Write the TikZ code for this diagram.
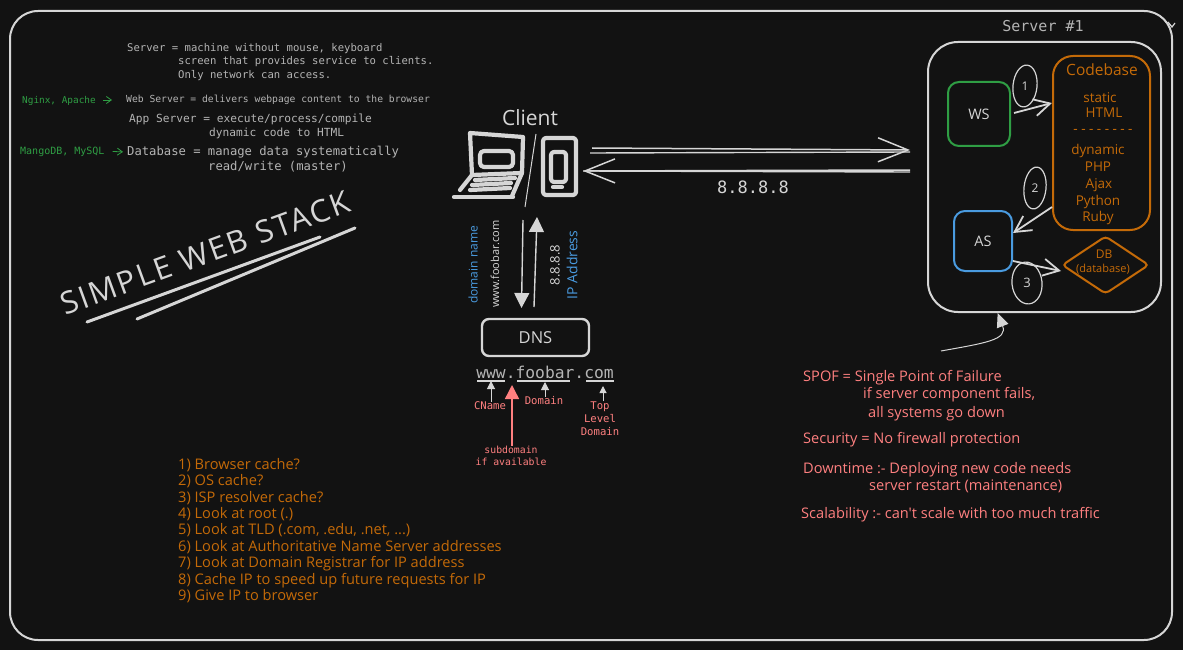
\documentclass[tikz,border=0pt]{standalone}
\usepackage{fontspec}
\setmonofont{DejaVu Sans Mono}
\newfontfamily\handfont{Open Sans}
\newfontfamily\titlefont[LetterSpace=7]{Open Sans}
\usetikzlibrary{arrows.meta}
\usetikzlibrary{shapes.geometric}
\definecolor{canvas}{HTML}{121212}
\definecolor{chalk}{HTML}{D6D6D6}
\definecolor{note}{HTML}{B4B4B4}
\definecolor{leaf}{HTML}{2F9E44}
\definecolor{sky}{HTML}{4A9BE0}
\definecolor{rust}{HTML}{C46A08}
\definecolor{coral}{HTML}{FF8080}
\newcommand{\monosize}[1]{\fontsize{#1}{#1}\selectfont\ttfamily}
\newcommand{\handsize}[1]{\fontsize{#1}{#1}\selectfont\handfont}

\begin{document}
\begin{tikzpicture}[>=stealth,x=1pt,y=-1pt,
		mono/.style={inner sep=0pt,anchor=west,text=note,font=\monosize{#1}},
		greenmono/.style={inner sep=0pt,anchor=west,text=leaf,font=\monosize{#1}},
		coralmono/.style={inner sep=0pt,text=coral,font=\monosize{#1}},
		rustmono/.style={inner sep=0pt,text=rust,font=\monosize{#1}},
		hand/.style={inner sep=0pt,text=chalk,font=\handsize{#1}},
		rusthand/.style={inner sep=0pt,yshift=-1pt,text=rust,font=\handsize{#1}},
		rustline/.style={inner sep=0pt,anchor=west,yshift=-1.5pt,text=rust,font=\handsize{14.6}},
		coralline/.style={inner sep=0pt,anchor=west,yshift=-1.5pt,text=coral,font=\handsize{14.6}},
		bluehand/.style={inner sep=0pt,text=sky,rotate=90,font=\handsize{#1}},
		longhead/.style={-{Straight Barb[length=30pt,width=24pt]},chalk,line width=1.5pt},
		openhead/.style={-{Straight Barb[length=16pt,width=17pt]},chalk,line width=1.8pt},
		greenhead/.style={-{Straight Barb[length=5pt,width=7pt]},leaf,line width=.8pt},
		solidhead/.style={-{Stealth[length=#1,width=#1,inset=0pt]},chalk,line width=1.4pt},
		roundbox/.style={draw=#1,line width=2pt,rounded corners=11pt,inner sep=0pt},
		badge/.style={draw=chalk,ellipse,line width=1.2pt,inner sep=0pt},
		icon/.style={draw=chalk,line width=4.2pt,line join=round,line cap=round}
		]
		\fill[canvas] (0,0) rectangle (1183,650);
		\useasboundingbox (0,0) rectangle (1183,650);

		\draw[chalk,line width=2pt,rounded corners=28pt] (10,11) rectangle (1172,640);
		\draw[chalk,line width=1.2pt] (1168,22) -- (1172,27) -- (1175,23);

		% definitions on the left
		\node[mono=10.6] (srvdef) at (127,49) {Server = machine without mouse, keyboard};
		\node[mono=10.6] (srvdefb) at (178,62) {screen that provides service to clients.};
		\node[mono=10.6] (srvdefc) at (178,76) {Only network can access.};
		\node[greenmono=9.4] (nginx) at (22,100.5) {Nginx, Apache};
		\node[mono=9.7] (wsdef) at (126,99.5) {Web Server = delivers webpage content to the browser};
		\node[mono=11.2] (asdef) at (129,119) {App Server = execute/process/compile};
		\node[mono=11.2] (asdefb) at (209,133) {dynamic code to HTML};
		\node[greenmono=10] (mango) at (20,151.5) {MangoDB, MySQL};
		\node[mono=12.2] (dbdef) at (127,152) {Database = manage data systematically};
		\node[mono=12.2] (dbdefb) at (208,167) {read/write (master)};
		\coordinate (nginxout) at (103,100);
		\coordinate (nginxin) at (112,100);
		\draw[greenhead] (nginxout) -- (nginxin);
		\draw[greenhead,shorten >=4pt] (mango.east) ++(8,0) coordinate (mangoout) -- (dbdef.west);

		% title
		\node[inner sep=0pt,text=chalk,rotate=20,font=\fontsize{31}{31}\selectfont\titlefont] (title) at (205,253) {SIMPLE WEB STACK};
		\coordinate (ruleaa) at (87,322);
		\coordinate (ruleab) at (320,237);
		\coordinate (ruleba) at (137,319);
		\coordinate (rulebb) at (355,228);
		\draw[chalk,line width=3pt,line cap=round] (ruleaa) -- (ruleab);
		\draw[chalk,line width=3pt,line cap=round] (ruleba) -- (rulebb);

		% client
		\node[hand=21] (client) at (530,118) {Client};
		\draw[icon] (470,133) -- (523,137) -- (522,173) -- (472,175) -- cycle;
		\draw[icon,rounded corners=4pt] (480,151) rectangle (513,167);
		\draw[icon] (472,175) -- (460,190);
		\draw[icon] (522,173) -- (512,196);
		\draw[icon] (454,197) -- (513,197);
		\draw[icon] (475,180) -- (515,178);
		\draw[icon] (472,185) -- (511,183);
		\draw[icon] (470,190) -- (510,188);
		\draw[chalk,line width=1pt] (536,134) -- (525,207);
		\draw[icon,rounded corners=3pt] (543,138) rectangle (576,195);
		\draw[icon,rounded corners=3pt] (551,152) rectangle (566,182);
		\draw[icon] (553,187) -- (562,187);

		\coordinate (clientin) at (583,171);
		\coordinate (clientout) at (592,148);
		\coordinate (clientoutb) at (590,153);
		\coordinate (serverin) at (910,150);
		\coordinate (serverinb) at (910,152);
		\coordinate (serverout) at (910,170);
		\coordinate (serveroutb) at (910,172);
		\draw[longhead] (clientout) -- (serverin);
		\draw[chalk,line width=1.4pt] (clientoutb) -- (serverinb);
		\draw[longhead] (serverout) -- (clientin);
		\draw[chalk,line width=1.4pt] (serveroutb) -- (clientin);
		\node[mono=17,anchor=center,text=chalk] (addr) at (753,187) {8.8.8.8};

		% dns lookup
		\node[draw=chalk,line width=2.4pt,rounded corners=7pt,minimum width=107pt,minimum height=37pt,inner sep=0pt] (dns) at (535.5,337.5) {};
		\node[hand=16.5] (dnstext) at (dns) {DNS};
		\coordinate (clientdown) at (523,220);
		\coordinate (dnshit) at (521.5,308);
		\coordinate (dnsup) at (534,307);
		\coordinate (clientup) at (537,217);
		\draw[solidhead=15pt] (clientdown) -- (dnshit);
		\draw[solidhead=15pt] (dnsup) -- (clientup);
		\node[bluehand=12] (domainname) at (473,265) {domain name};
		\node[hand=11,rotate=90] (wwwname) at (495,264) {www.foobar.com};
		\node[hand=13,rotate=90] (ipnum) at (555,265) {8.8.8.8};
		\node[bluehand=14] (ipname) at (572,265) {IP Address};

		\node[mono=16.3,anchor=center,text=note] (fqdn) at (545,372) {www.foobar.com};
		\coordinate (wwwleft) at (477,381);
		\coordinate (wwwright) at (505,381);
		\coordinate (fooleft) at (517,381);
		\coordinate (fooright) at (570,381);
		\coordinate (comleft) at (586,381);
		\coordinate (comright) at (614,381);
		\draw[chalk,line width=1.2pt] (wwwleft) -- (wwwright);
		\draw[chalk,line width=1.2pt] (fooleft) -- (fooright);
		\draw[chalk,line width=1.2pt] (comleft) -- (comright);
		\node[coralmono=10.6] (cname) at (490,406) {CName};
		\node[coralmono=10.6] (domain) at (544,401) {Domain};
		\node[coralmono=10.6,align=center] (tld) at (600,418.5) {Top\\[3pt]Level\\[2pt]Domain};
		\node[coralmono=9.8,align=center] (subdomain) at (511,456) {subdomain\\[2pt]if available};
		\draw[solidhead=8pt,line width=1pt] (cname.north -| 491,398) coordinate (cnamefoot) -- (491,381);
		\draw[solidhead=8pt,line width=1pt] (domain.north -| 545,396) coordinate (domainfoot) -- (545,382);
		\draw[solidhead=7pt,line width=1pt] (tld.north -| 603,400) coordinate (tldfoot) -- (603,386);
		\draw[solidhead=14pt,coral] (subdomain.north -| 512,438) coordinate (subfoot) -- (512,385);

		% server
		\node[mono=15,anchor=center] (srvtitle) at (1043,26) {Server \#1};
		\node[roundbox=chalk,rounded corners=30pt,minimum width=233pt,minimum height=270pt] (srv) at (1044.5,177) {};
		\node[roundbox=leaf,minimum width=62pt,minimum height=64pt] (ws) at (979,114) {};
		\node[hand=14.5] (wstext) at (ws) {WS};
		\node[roundbox=sky,minimum width=58pt,minimum height=60pt] (as) at (983,241) {};
		\node[hand=14.5] (astext) at (as) {AS};
		\node[roundbox=rust,rounded corners=20pt,minimum width=97pt,minimum height=174pt] (code) at (1101.5,143) {};
		\node[rusthand=15.5] (codetitle) at (1102,69) {Codebase};
		\node[rusthand=13.5] (static) at (1100,97) {static};
		\node[rusthand=13.5] (html) at (1104,112) {HTML};
		\node[rustmono=13] (dashes) at (1103,131) {--------};
		\node[rusthand=13.5] (dynamic) at (1098,150) {dynamic};
		\node[rusthand=13.5] (php) at (1098,166) {PHP};
		\node[rusthand=13.5] (ajax) at (1099,184) {Ajax};
		\node[rusthand=13.5] (python) at (1098,201) {Python};
		\node[rusthand=13.5] (ruby) at (1098,217) {Ruby};
		\node[draw=rust,line width=2pt,diamond,aspect=1.5,rounded corners=4pt,minimum width=87pt,minimum height=58pt,inner sep=0pt] (db) at (1105.5,265) {};
		\node[rusthand=12] (dbtop) at (1104,253) {DB};
		\node[rusthand=11] (dbname) at (1103,268) {(database)};

		\node[badge,minimum width=24pt,minimum height=42pt,rotate=-6] (stepa) at (1025,86) {};
		\node[hand=12] (stepatext) at (stepa) {1};
		\node[badge,minimum width=22pt,minimum height=42pt,rotate=-6] (stepb) at (1035,188) {};
		\node[hand=12] (stepbtext) at (stepb) {2};
		\node[badge,minimum width=30pt,minimum height=42pt,rotate=6] (stepc) at (1027,283) {};
		\node[hand=13] (stepctext) at (stepc) {3};
		\draw[openhead] (1014,113) -- (code.west |- 0,103);
		\draw[openhead] (code.west |- 0,207) -- (as.east |- 0,233);
		\draw[openhead] (as.east |- 0,261) -- (db.west |- 0,271);

		% spof note
		\coordinate (noteend) at (941,351);
		\draw[-{Stealth[length=14pt,width=12pt,inset=0pt]},chalk,line width=1pt] (noteend) .. controls (985,343) and (1008,340) .. (srv.251);
		\node[coralline] (spof) at (803,376) {SPOF = Single Point of Failure};
		\node[coralline] (spofb) at (863,393) {if server component fails,};
		\node[coralline] (spofc) at (868,412) {all systems go down};
		\node[coralline] (security) at (803,438) {Security = No firewall protection};
		\node[coralline] (downtime) at (803,468) {Downtime :- Deploying new code needs};
		\node[coralline] (downtimeb) at (869,485) {server restart (maintenance)};
		\node[coralline] (scale) at (801,513) {Scalability :- can't scale with too much traffic};

		% lookup order
		\node[rustline] (lista) at (178,464) {1) Browser cache?};
		\node[rustline] (listb) at (178,480) {2) OS cache?};
		\node[rustline] (listc) at (178,497) {3) ISP resolver cache?};
		\node[rustline] (listd) at (178,513) {4) Look at root (.)};
		\node[rustline] (liste) at (178,529) {5) Look at TLD (.com, .edu, .net, ...)};
		\node[rustline] (listf) at (178,546) {6) Look at Authoritative Name Server addresses};
		\node[rustline] (listg) at (178,562) {7) Look at Domain Registrar for IP address};
		\node[rustline] (listh) at (178,579) {8) Cache IP to speed up future requests for IP};
		\node[rustline] (listi) at (178,595) {9) Give IP to browser};
		\end{tikzpicture}
\end{document}
